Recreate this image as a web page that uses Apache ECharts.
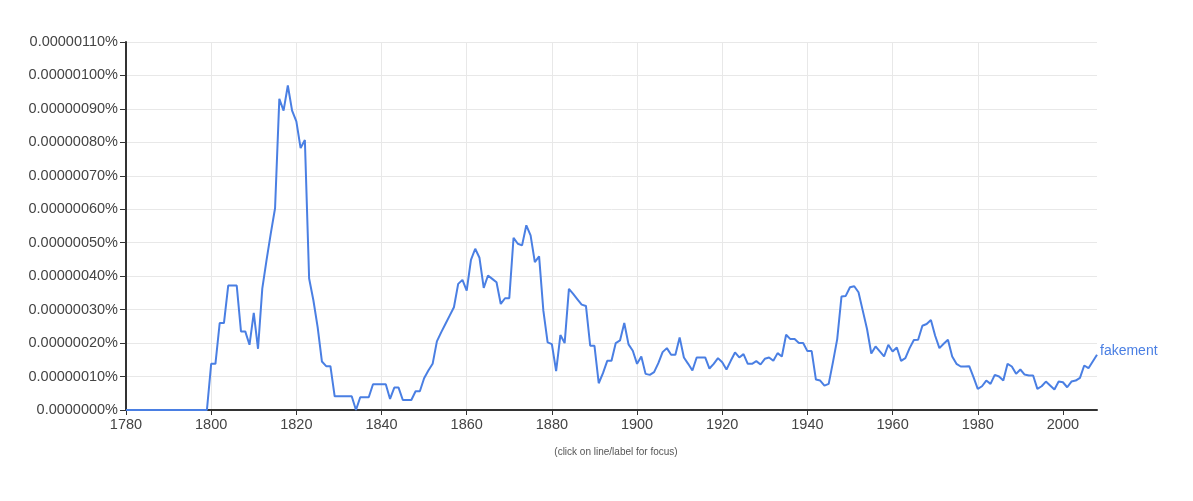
<!DOCTYPE html>
<html>
<head>
<meta charset="utf-8">
<script src="https://cdn.jsdelivr.net/npm/echarts@6/dist/echarts.min.js"></script>
<style>
html,body{margin:0;padding:0;background:#fff;}
#chart{width:1193px;height:501px;}
</style>
</head>
<body>
<div id="chart"></div>
<script>
// Years 1780..2008
const startYear = 1780;
const endYear = 2008;
// Values in units of 0.0000001 % (1e-7 percent)
const zeros1780to1799 = [0,0,0,0,0,0,0,0,0,0, 0,0,0,0,0,0,0,0,0,0];
const vals1800s = [1.38,1.38,2.6,2.6,3.72,3.72,3.72,2.35,2.35,1.95,
                   2.9,1.83,3.63,4.48,5.28,6.03,9.3,8.95,9.7,8.95,
                   8.63,7.83,8.07,3.93,3.28,2.48,1.45,1.31,1.31,0.41,
                   0.41,0.41,0.41,0.41,0.0,0.38,0.38,0.38,0.77,0.77,
                   0.77,0.77,0.33,0.67,0.67,0.3,0.3,0.3,0.56,0.56,
                   0.95,1.18,1.38,2.05,2.32,2.57,2.82,3.07,3.77,3.89,
                   3.57,4.49,4.82,4.55,3.65,4.02,3.92,3.82,3.17,3.34,
                   3.34,5.15,4.97,4.92,5.52,5.22,4.42,4.59,2.97,2.02,
                   1.97,1.16,2.24,2.0,3.62,3.47,3.31,3.15,3.11,1.92,
                   1.92,0.8,1.1,1.47,1.47,2.0,2.08,2.6,1.96,1.77];
const vals1900s = [1.38,1.6,1.08,1.05,1.13,1.4,1.73,1.85,1.65,1.65,
                   2.17,1.57,1.38,1.18,1.57,1.57,1.57,1.24,1.38,1.55,
                   1.43,1.21,1.47,1.72,1.57,1.67,1.38,1.38,1.46,1.36,
                   1.53,1.57,1.47,1.7,1.6,2.25,2.12,2.12,2.0,2.0,
                   1.76,1.76,0.91,0.88,0.73,0.78,1.43,2.12,3.39,3.41,
                   3.67,3.7,3.52,2.97,2.42,1.69,1.9,1.75,1.6,1.95,
                   1.75,1.87,1.47,1.55,1.85,2.09,2.1,2.52,2.57,2.69,
                   2.22,1.85,1.98,2.1,1.6,1.38,1.3,1.3,1.31,0.98,
                   0.63,0.71,0.88,0.78,1.05,1.0,0.88,1.38,1.3,1.08,
                   1.21,1.06,1.03,1.03,0.63,0.71,0.85,0.73,0.61,0.85];
const vals2000s = [0.83,0.68,0.85,0.88,0.96,1.33,1.25,1.45,1.65];
const seriesName = 'fakement';
const xTicks = [1780,1800,1820,1840,1860,1880,1900,1920,1940,1960,1980,2000];
const yMax = 11; // 0.00000110%

const values = zeros1780to1799.concat(vals1800s, vals1900s, vals2000s);
const data = values.map((v, i) => [startYear + i, v]);

const chart = echarts.init(document.getElementById('chart'), null, {renderer: 'canvas'});
const font = 'Arial, "Liberation Sans", sans-serif';
chart.setOption({
  animation: false,
  backgroundColor: '#ffffff',
  grid: {left: 126, right: 96, top: 42, bottom: 91, containLabel: false},
  title: {
    text: '(click on line/label for focus)',
    left: 611, top: 442, textAlign: 'center',
    textStyle: {fontSize: 10, fontWeight: 'normal', color: '#555', fontFamily: font}
  },
  xAxis: {
    type: 'value', min: startYear, max: endYear, interval: 20,
    axisLine: {show: true, onZero: false, lineStyle: {color: '#333', width: 2}},
    axisTick: {show: true, length: 5, customValues: xTicks, lineStyle: {color: '#333', width: 1}},
    axisLabel: {
      color: '#444', fontSize: 14.5, fontFamily: font, margin: 7,
      customValues: xTicks,
      formatter: v => String(v)
    },
    splitLine: {show: true, showMaxLine: false, lineStyle: {color: '#e8e8e8', width: 1}}
  },
  yAxis: {
    type: 'value', min: 0, max: yMax, interval: 1,
    axisLine: {show: true, lineStyle: {color: '#333', width: 2}},
    axisTick: {show: true, length: 6, lineStyle: {color: '#333', width: 1}},
    axisLabel: {
      color: '#444', fontSize: 14.5, fontFamily: font, margin: 8,
      formatter: v => v === 0 ? '0.0000000%' : (v * 1e-7).toFixed(8) + '%'
    },
    splitLine: {show: true, lineStyle: {color: '#e8e8e8', width: 1}}
  },
  series: [{
    name: seriesName,
    type: 'line',
    data: data,
    showSymbol: false,
    symbol: 'none',
    clip: false,
    lineStyle: {color: '#4a7fe3', width: 2},
    itemStyle: {color: '#4a7fe3'},
    endLabel: {
      show: true, formatter: seriesName, color: '#4a7fe3',
      fontSize: 14, fontFamily: font, distance: 3, offset: [0, -4]
    }
  }]
});
</script>
</body>
</html>
